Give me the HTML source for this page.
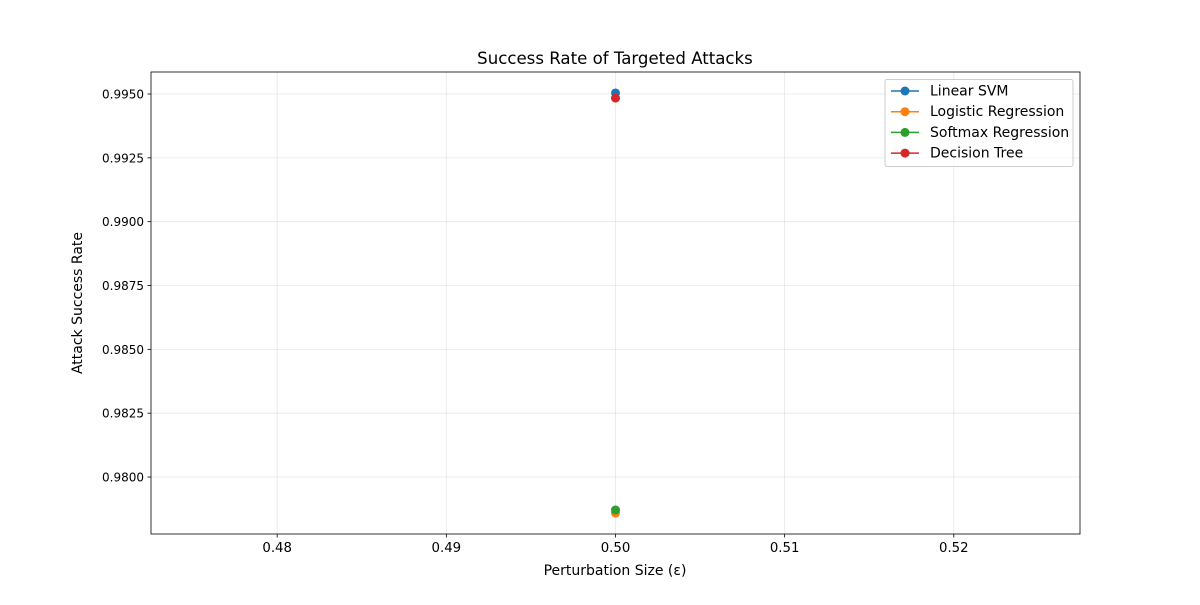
<!DOCTYPE html>
<html><head><meta charset="utf-8"><style>
body{margin:0;background:#fff;font-family:"Liberation Sans","DejaVu Sans",sans-serif;}
svg text{font-family:"DejaVu Sans","Liberation Sans",sans-serif;}
</style></head><body>
<svg id="chart" width="1200" height="600" xmlns="http://www.w3.org/2000/svg">
<rect width="1200" height="600" fill="#fff"/>
<g id="grid"></g>
<g id="axes"></g>
<g id="marks"></g>
<text x="615" y="64" text-anchor="middle" font-size="16.6">Success Rate of Targeted Attacks</text>
<text x="615" y="575" text-anchor="middle" font-size="14">Perturbation Size (ε)</text>
<text x="82" y="303" text-anchor="middle" font-size="14" transform="rotate(-90 82 303)">Attack Success Rate</text>
<g id="legend"></g>
</svg>
<script>
const seriesNames = ["Linear SVM","Logistic Regression","Softmax Regression","Decision Tree"];
const colors = ["#1f77b4","#ff7f0e","#2ca02c","#d62728"];
const xValues = [0.50];
const linearSVM = [0.99504];
const logisticRegression = [0.97859];
const softmaxRegression = [0.97871];
const decisionTree = [0.99484];
const xTicks = [0.48,0.49,0.50,0.51,0.52];
const yTicks = [0.9800,0.9825,0.9850,0.9875,0.9900,0.9925,0.9950];

const L=151,R=1080,T=72,B=534;
const xMin=0.47254,xMax=0.52746,yMin=0.977768,yMax=0.995862;
const NS="http://www.w3.org/2000/svg";
function xs(v){return L+(v-xMin)/(xMax-xMin)*(R-L);}
function ys(v){return B-(v-yMin)/(yMax-yMin)*(B-T);}
function mk(tag,attrs,parent){const e=document.createElementNS(NS,tag);for(const k in attrs)e.setAttribute(k,attrs[k]);parent.appendChild(e);return e;}
const grid=document.getElementById('grid'),axes=document.getElementById('axes'),marks=document.getElementById('marks'),legend=document.getElementById('legend');
xTicks.forEach(t=>{
  const x=xs(t);
  const g=mk('line',{x1:x,x2:x,y1:T,y2:B,stroke:'#b0b0b0','stroke-opacity':0.3,'stroke-width':0.8},grid);
  
  
  mk('line',{x1:x,x2:x,y1:B,y2:B+3.5,stroke:'#000','stroke-width':0.8},axes);
  const tx=mk('text',{x:x,y:B+18,'text-anchor':'middle','font-size':13.3},axes);
  tx.textContent=t.toFixed(2);
  
  
});
yTicks.forEach(t=>{
  const y=ys(t);
  const g=mk('line',{x1:L,x2:R,y1:y,y2:y,stroke:'#b0b0b0','stroke-opacity':0.3,'stroke-width':0.8},grid);
  
  
  mk('line',{x1:L-3.5,x2:L,y1:y,y2:y,stroke:'#000','stroke-width':0.8},axes);
  const tx=mk('text',{x:L-7,y:y+4.5,'text-anchor':'end','font-size':12},axes);
  tx.textContent=t.toFixed(4);
  
  
});
mk('rect',{x:L,y:T,width:R-L,height:B-T,fill:'none',stroke:'#000','stroke-width':0.8},axes);
const allSeries=[linearSVM,logisticRegression,softmaxRegression,decisionTree];
allSeries.forEach((s,i)=>{
  const pts=s.map((v,j)=>xs(xValues[j])+','+ys(v)).join(' ');
  const pl=mk('polyline',{points:pts,fill:'none',stroke:colors[i],'stroke-width':1.5},marks);
  
  
  s.forEach((v,j)=>{
    const c=mk('circle',{cx:xs(xValues[j]),cy:ys(v),r:4.5,fill:colors[i]},marks);
    
    
  });
});
const lb=mk('rect',{x:885,y:79.5,width:188,height:87,rx:2,fill:'#fff','fill-opacity':0.8,stroke:'#ccc','stroke-width':1},legend);


seriesNames.forEach((n,i)=>{
  const y=91+i*20.7;
  mk('line',{x1:891,x2:919,y1:y,y2:y,stroke:colors[i],'stroke-width':1.5},legend);
  mk('circle',{cx:905,cy:y,r:4.5,fill:colors[i]},legend);
  const t=mk('text',{x:930,y:y+4.5,'font-size':14},legend);
  t.textContent=n;
  
  
});
</script>
</body></html>
